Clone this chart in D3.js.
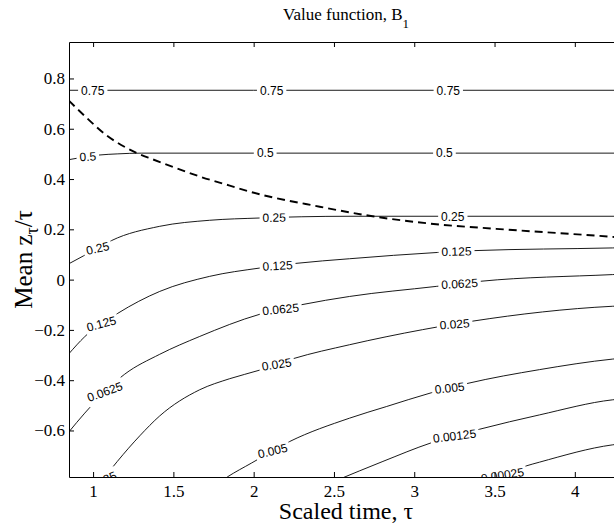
<!DOCTYPE html>
<html>
<head>
<meta charset="utf-8">
<script src="https://cdn.jsdelivr.net/npm/d3@7"></script>
<style>
  body { margin: 0; background: #fff; }
  svg text { fill: #000; }
  .tick text { font-family: "Liberation Serif", "Times New Roman", serif; font-size: 17px; }
</style>
</head>
<body>
<svg id="chart" width="614" height="525"></svg>
<script>
// ticks
const xTicks = [1, 1.5, 2, 2.5, 3, 3.5, 4];
const yTicks = [-0.6, -0.4, -0.2, 0, 0.2, 0.4, 0.6, 0.8];

// contour levels as [scaled time, mean z/tau]
const levels = ["0.75", "0.5", "0.25", "0.125", "0.0625", "0.025", "0.005", "0.00125", "0.00025"];
const c075 = [[0.849, 0.753], [2.0, 0.753], [4.3, 0.753]];
const c05 = [[0.849, 0.477], [0.95, 0.488], [1.03, 0.495], [1.15, 0.500], [1.30, 0.503], [2.0, 0.503], [4.3, 0.503]];
const c025 = [[0.849, 0.063], [0.942, 0.095], [1.028, 0.125], [1.114, 0.155], [1.415, 0.212], [1.726, 0.236],
  [2.037, 0.245], [2.3, 0.250], [2.6, 0.252], [4.3, 0.252]];
const c0125 = [[0.849, -0.295], [0.948, -0.227], [1.154, -0.134], [1.415, -0.047], [1.726, 0.013], [2.037, 0.046],
  [2.255, 0.064], [2.597, 0.083], [3.145, 0.108], [3.363, 0.115], [4.234, 0.126], [4.3, 0.127]];
const c00625 = [[0.849, -0.606], [0.948, -0.531], [1.197, -0.376], [1.415, -0.297], [1.664, -0.226], [2.037, -0.138],
  [2.297, -0.100], [2.597, -0.067], [3.137, -0.027], [3.407, -0.007], [4.234, 0.020], [4.3, 0.022]];
const c0025 = [[1.055, -0.80], [1.151, -0.723], [1.291, -0.621], [1.415, -0.542], [1.664, -0.438], [1.851, -0.394],
  [2.037, -0.360], [2.243, -0.315], [2.597, -0.259], [3.052, -0.199], [3.355, -0.166], [4.234, -0.106], [4.3, -0.104]];
const c0005 = [[1.80, -0.80], [1.838, -0.784], [1.988, -0.729], [2.224, -0.644], [2.597, -0.551], [2.826, -0.505],
  [3.106, -0.450], [3.324, -0.414], [3.780, -0.358], [4.236, -0.316], [4.3, -0.312]];
const c000125 = [[2.51, -0.80], [2.805, -0.723], [3.106, -0.649], [3.407, -0.595], [3.780, -0.538], [4.236, -0.478], [4.3, -0.474]];
const c000025 = [[3.40, -0.81], [3.549, -0.777], [3.697, -0.741], [3.780, -0.726], [4.236, -0.657], [4.3, -0.652]];

// where the inline labels sit (scaled time)
const labelX = [
  [0.998, 2.112, 3.212],
  [0.967, 2.072, 3.188],
  [1.028, 2.128, 3.240],
  [1.051, 2.149, 3.263],
  [1.073, 2.168, 3.282],
  [1.056, 2.143, 3.251],
  [2.118, 3.220],
  [3.251],
  [3.549]
];

// dashed boundary curve
const boundaryX = [0.849, 0.959, 1.083, 1.208, 1.270, 1.373, 1.498, 1.664, 1.851, 1.975, 2.411, 2.740, 3.157, 3.510, 4.236, 4.3];
const boundaryY = [0.712, 0.644, 0.574, 0.524, 0.504, 0.478, 0.448, 0.410, 0.374, 0.350, 0.290, 0.252, 0.219, 0.202, 0.170, 0.167];

const contourPts = [c075, c05, c025, c0125, c00625, c0025, c0005, c000125, c000025];

const svg = d3.select("#chart");
const plotL = 69, plotR = 623, plotT = 42, plotB = 477;
const serif = "Liberation Serif, Times New Roman, serif";

const x = d3.scaleLinear().domain([0.85, 4.3]).range([plotL, plotR]);
const y = d3.scaleLinear().domain([-0.785, 0.945]).range([plotB, plotT]);

svg.append("defs").append("clipPath").attr("id", "plot")
  .append("rect").attr("x", plotL).attr("y", plotT).attr("width", plotR - plotL).attr("height", plotB - plotT);

const plot = svg.append("g").attr("clip-path", "url(#plot)");

const line = d3.line().x(d => x(d[0])).y(d => y(d[1])).curve(d3.curveMonotoneX);

contourPts.forEach((pts, i) => {
  const path = plot.append("path")
    .attr("d", line(pts))
    .attr("fill", "none")
    .attr("stroke", "#000")
    .attr("stroke-width", 0.9);
  const node = path.node();
  const L = node.getTotalLength();
  // arc length where the path reaches a given screen x
  const lenAt = px => {
    let lo = 0, hi = L;
    for (let k = 0; k < 40; k++) {
      const m = (lo + hi) / 2;
      if (node.getPointAtLength(m).x < px) lo = m; else hi = m;
    }
    return (lo + hi) / 2;
  };
  const gaps = [];
  labelX[i].forEach(lx => {
    const s = lenAt(x(lx));
    const p = node.getPointAtLength(s);
    const p0 = node.getPointAtLength(Math.max(0, s - 6));
    const p1 = node.getPointAtLength(Math.min(L, s + 6));
    const ang = Math.atan2(p1.y - p0.y, p1.x - p0.x) * 180 / Math.PI * 0.45;
    const t = plot.append("text")
      .attr("transform", `translate(${p.x},${p.y}) rotate(${ang})`)
      .attr("text-anchor", "middle")
      .attr("dy", "0.36em")
      .attr("font-family", "Liberation Sans, Arial, sans-serif")
      .attr("font-size", 12)
      .text(levels[i]);
    const w = t.node().getComputedTextLength();
    gaps.push([s - w / 2 - 3, s + w / 2 + 3]);
  });
  const dash = [];
  let start = 0;
  gaps.sort((a, b) => a[0] - b[0]).forEach(([a, b]) => {
    dash.push(Math.max(0, a - start), b - Math.max(a, start));
    start = b;
  });
  dash.push(Math.max(0, L - start) + 10, 0);
  path.attr("stroke-dasharray", dash.join(" "));
});

plot.append("path")
  .attr("d", line(boundaryX.map((v, i) => [v, boundaryY[i]])))
  .attr("fill", "none")
  .attr("stroke", "#000")
  .attr("stroke-width", 1.9)
  .attr("stroke-dasharray", "8 5");

// axes, MATLAB style ticks pointing in
const fmt = d3.format("~g");
const styleAxis = g => {
  g.style("font-family", serif).style("font-size", "17px");
  g.selectAll("line,path").attr("stroke", "#000");
};

svg.append("g").attr("transform", `translate(0,${plotB})`)
  .call(d3.axisBottom(x).tickValues(xTicks).tickFormat(fmt).tickSizeInner(-5).tickSizeOuter(0).tickPadding(8))
  .call(styleAxis);
svg.append("g").attr("transform", `translate(0,${plotT})`)
  .call(d3.axisTop(x).tickValues(xTicks).tickFormat("").tickSizeInner(-5).tickSizeOuter(0))
  .call(styleAxis);
svg.append("g").attr("transform", `translate(${plotL},0)`)
  .call(d3.axisLeft(y).tickValues(yTicks).tickFormat(fmt).tickSizeInner(-5).tickSizeOuter(0).tickPadding(4))
  .call(styleAxis);

// title and axis labels (title wrapped so the subscript gets plain grey antialiasing)
const title = svg.append("g").attr("opacity", 0.999).append("text")
  .attr("x", (plotL + plotR) / 2).attr("y", 20)
  .attr("text-anchor", "middle")
  .attr("font-family", serif).attr("font-size", 17);
title.append("tspan").text("Value function, B");
title.append("tspan").attr("dy", 8).attr("font-size", 13).text("1");

svg.append("text")
  .attr("x", (plotL + plotR) / 2).attr("y", 519)
  .attr("text-anchor", "middle")
  .attr("font-family", serif).attr("font-size", 24)
  .text("Scaled time, τ");

const ylab = svg.append("text")
  .attr("transform", `translate(32,${(plotT + plotB) / 2}) rotate(-90)`)
  .attr("text-anchor", "middle")
  .attr("font-family", serif).attr("font-size", 25);
ylab.append("tspan").text("Mean z");
ylab.append("tspan").attr("dy", 6).attr("font-size", 18).text("τ");
ylab.append("tspan").attr("dy", -6).text("/τ");
</script>
</body>
</html>
